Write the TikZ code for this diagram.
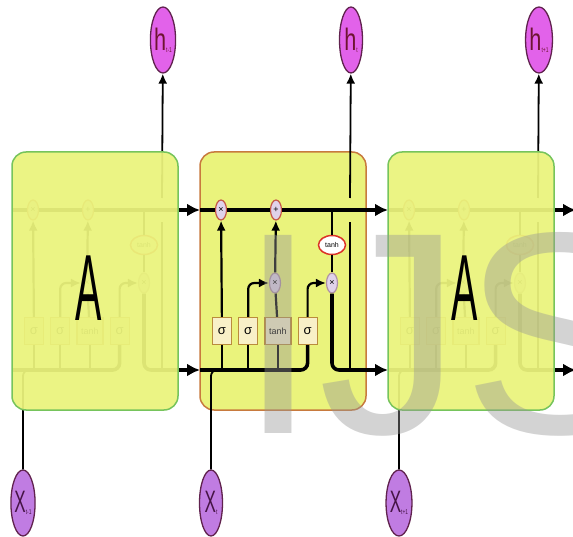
\documentclass[tikz,border=0pt]{standalone}
\usepackage{fontspec}
\setmainfont{Liberation Sans}
\usetikzlibrary{arrows.meta,positioning,shapes.geometric}

\definecolor{cellfill}{RGB}{234,243,124}
\definecolor{midedge}{RGB}{200,122,62}
\definecolor{outedge}{RGB}{118,196,92}
\definecolor{hfill}{RGB}{226,98,234}
\definecolor{xfill}{RGB}{192,124,226}
\definecolor{ringedge}{RGB}{96,34,78}
\definecolor{hred}{RGB}{110,20,50}
\definecolor{xpurple}{RGB}{70,20,70}
\definecolor{gatefill}{RGB}{248,240,200}
\definecolor{gateedge}{RGB}{186,140,60}
\definecolor{opfill}{RGB}{224,210,234}
\definecolor{opedge}{RGB}{196,84,70}
\definecolor{tanhedge}{RGB}{220,52,40}
\definecolor{markgray}{RGB}{150,150,150}

\newcommand\squeeze[2]{\scalebox{#1}[1]{#2}}

\begin{document}
\begin{tikzpicture}[x=1pt, y=-1pt,
    cellbox/.style={draw, line width=1.5pt, fill=cellfill, rounded corners=14pt,
        minimum width=166pt, minimum height=258pt, inner sep=0pt},
    gate/.style={draw=gateedge, line width=1.2pt, fill=gatefill, inner sep=0pt,
        minimum width=19pt, minimum height=27pt, font=\fontsize{13}{13}\selectfont},
    op/.style={ellipse, draw=opedge, line width=1.2pt, fill=opfill, inner sep=0pt,
        minimum width=11pt, minimum height=20pt, font=\fontsize{9}{9}\selectfont},
    tanhring/.style={ellipse, draw=tanhedge, line width=1.5pt, fill=white, inner sep=0pt,
        minimum width=27pt, minimum height=19pt, font=\fontsize{7}{7}\selectfont},
    hring/.style={ellipse, draw=ringedge, line width=1.3pt, fill=hfill, inner sep=0pt,
        minimum width=23pt, minimum height=66pt, text=hred, font=\fontsize{31}{31}\selectfont},
    xring/.style={hring, fill=xfill, text=xpurple},
    bigA/.style={font=\fontsize{94}{94}\selectfont, inner sep=0pt},
    mainline/.style={line width=3.6pt},
    wire/.style={line width=2.2pt},
    link/.style={line width=1.8pt},
    arr/.style={-{Latex[length=10pt,width=9pt]}},
    bigarr/.style={-{Latex[length=13pt,width=13pt]}}
]
\useasboundingbox (0,0) rectangle (573,537);

\node[cellbox, draw=midedge] (boxM) at (283,281) {};

% one LSTM cell, repeated; the outer two get covered below
\foreach \dx/\ct/\sb in {-188/L/{t-1}, 0/M/t, 188/R/{t+1}} {
  \begin{scope}[shift={(\dx,0)}]
    \coordinate (cin\ct) at (200,210);
    \coordinate (cout\ct) at (388,210);
    \coordinate (hin\ct) at (200,370);
    \coordinate (hout\ct) at (388,370);
    \coordinate (br\ct) at (332,210);
    \coordinate (hup\ct) at (350,370);
    \coordinate (gapa\ct) at (350,222);
    \coordinate (gapb\ct) at (350,198);

    \node[op] (mf\ct) at (221,210) {×};
    \node[op] (ad\ct) at (276,210) {+};
    \node[tanhring] (th\ct) at (332,245) {tanh};
    \node[op, draw=ringedge!50] (mi\ct) at (275,283) {×};
    \node[op, draw=ringedge!50] (mo\ct) at (332,283) {×};

    \node[gate] (sf\ct) at (222,331) {σ};
    \node[gate, right=6pt of sf\ct] (si\ct) {σ};
    \node[gate, minimum width=26pt, font=\fontsize{9}{9}\selectfont,
        right=6pt of si\ct] (tc\ct) {tanh};
    \node[gate, right=6pt of tc\ct] (so\ct) {σ};

    \node[hring] (h\ct) at (351,40) {\squeeze{0.7}{h}\raisebox{-2pt}{\fontsize{7}{7}\selectfont\squeeze{0.7}{\sb}}};
    \node[xring] (x\ct) at (211,503) {\squeeze{0.55}{X}\raisebox{-2pt}{\fontsize{7}{7}\selectfont\squeeze{0.7}{\sb}}};

    % cell state
    \draw[mainline] (cin\ct) -- (mf\ct);
    \draw[mainline] (mf\ct) -- (ad\ct);
    \draw[mainline, bigarr] (ad\ct) -- (cout\ct);
    \draw[wire] (br\ct) -- (th\ct);
    \draw[wire] (th\ct) -- (mo\ct);

    % gates
    \draw[wire, arr] (sf\ct) -- (mf\ct);
    \draw[wire, arr, rounded corners=6pt] (si\ct.north) |- (mi\ct.west);
    \draw[wire] (tc\ct) -- (mi\ct);
    \draw[wire, arr] (mi\ct) -- (ad\ct);
    \draw[wire, arr, rounded corners=6pt] (so\ct.north) |- (mo\ct.west);

    % hidden state in and out
    \draw[mainline, rounded corners=7pt] (hin\ct) -| (so\ct.south);
    \foreach \g in {sf,si,tc}
      \draw[wire] (\g\ct.south) -- (\g\ct |- hin\ct);
    \draw[mainline, bigarr, rounded corners=7pt] (mo\ct) |- (hout\ct);
    \draw[link, rounded corners=6pt] (x\ct) |- (sf\ct |- hin\ct);
    \draw[wire] (hup\ct) -- (gapa\ct);
    \draw[link, arr] (gapb\ct) -- (h\ct);
  \end{scope}
}

\foreach \nm/\cx in {L/95, R/471} {
  \node[cellbox, draw=outedge, fill opacity=0.94] (box\nm) at (\cx,281) {};
  \node[bigA] (a\nm) at ([xshift=-6pt, yshift=-7pt]box\nm.center) {\squeeze{0.42}{A}};
}

\node[anchor=base west, inner sep=0pt, text=markgray, text opacity=0.42,
    font=\fontsize{288}{288}\selectfont] (mark) at (238,433) {IJS};
\end{tikzpicture}
\end{document}
